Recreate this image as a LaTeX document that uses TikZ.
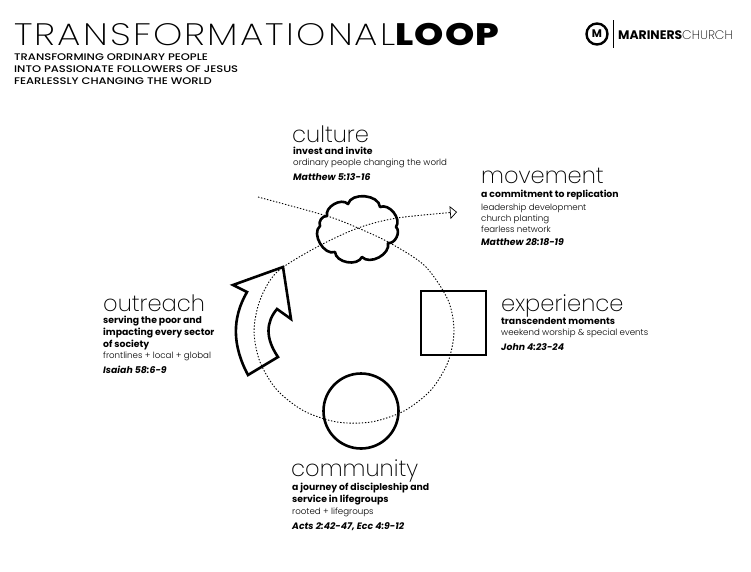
\documentclass[tikz,border=0pt]{standalone}
\usepackage{fontspec}
\setmainfont{Poppins}[UprightFont=* Light,BoldFont=* Bold,ItalicFont=* Italic,BoldItalicFont=* Bold Italic]
\newfontfamily\thinfont{Poppins}[UprightFont=* ExtraLight,BoldFont=* ExtraBold]
\newfontfamily\titlefont{Poppins}[UprightFont=* ExtraLight,FakeStretch=1.2,LetterSpace=7]
\newfontfamily\loopfont{Poppins}[UprightFont=* ExtraBold,FakeStretch=1.2,LetterSpace=3]
\newfontfamily\tagfont{Poppins}[UprightFont=* Medium,FakeStretch=1.2]
\usetikzlibrary{arrows.meta}
\tikzset{
    thickline/.style={line width=2.6pt},
    dotline/.style={line width=.9pt,dash pattern=on 1.4pt off 1.7pt},
    heading/.style={anchor=base west,inner sep=0pt,font=\thinfont\fontsize{22.6}{23}\selectfont},
    lead/.style={anchor=base west,inner sep=0pt,align=left,font=\fontsize{9.3}{12}\selectfont\bfseries},
    tagline/.style={anchor=base west,inner sep=0pt,font=\tagfont\fontsize{9.6}{12}\selectfont},
    body/.style={anchor=base west,inner sep=0pt,align=left,font=\fontsize{8.65}{10.6}\selectfont},
    verse/.style={anchor=base west,inner sep=0pt,font=\fontsize{9.3}{12}\selectfont\bfseries\itshape}
}
\begin{document}
\begin{tikzpicture}[x=1pt,y=-1pt]
    \useasboundingbox (0,0) rectangle (751,571);
    % header
    \node[anchor=base west,inner sep=0pt] (title) at (14,45) {\fontsize{31}{31}\selectfont{\titlefont TRANSFORMATIONAL}{\loopfont LOOP}};
    \node[tagline] (tagone) at (14,60) {TRANSFORMING ORDINARY PEOPLE};
    \node[tagline] (tagtwo) at (14,72) {INTO PASSIONATE FOLLOWERS OF JESUS};
    \node[tagline] (tagthree) at (14,84) {FEARLESSLY CHANGING THE WORLD};
    % logo
    \node[circle,draw,line width=2.4pt,minimum size=21pt,inner sep=0pt,font=\bfseries\fontsize{11}{11}\selectfont] (logo) at (597,34) {M};
    \draw[line width=.7pt] (613,20)--(613,48);
    \node[anchor=base west,inner sep=0pt,font=\fontsize{12.4}{12}\selectfont] (church) at (618,39) {\textbf{MARINERS}\thinfont CHURCH};
    % the loop
    \coordinate (start) at (258,197);
    \draw[dotline,-{Triangle[open,length=7pt,width=13pt,line width=.7pt]}] plot[smooth] coordinates {(start) (327,216) (358,228) (390,243) (425,266) (448,300) (454,331) (448,362) (431,390) (404,411) (371,422) (337,422) (304,411) (277,390) (260,362) (254,331) (260,300) (277,272) (317,247) (358,228) (397,218) (457,212)};
    % shapes
    \draw[thickline,line join=round] (327,216) to[bend left=75] (348,204) to[bend left=80] (380,207) to[bend left=75] (396,227) to[bend left=75] (388,243) to[bend left=75] (362,257) to[bend left=75] (335,252) to[bend left=80] (320,226) to[bend left=60] cycle;
    \node[draw,thickline,minimum width=65pt,minimum height=64pt,inner sep=0pt] (squareshape) at (453.5,323) {};
    \node[circle,draw,thickline,minimum size=75pt,inner sep=0pt] (circleshape) at (361,411) {};
    \draw[thickline,line join=miter] (233,285)--(283,267)--(291,319)--(277,309) .. controls (266,322) and (265,338) .. (278,357)--(248,375) .. controls (232,345) and (232,318) .. (247,292)--cycle;
    % culture
    \node[heading] (culture) at (292,142) {culture};
    \node[lead] (culturelead) at (293,154) {invest and invite};
    \node[body] (culturebody) at (293,165) {ordinary people changing the world};
    \node[verse] (cultureverse) at (293,180) {Matthew 5:13-16};
    % movement
    \node[heading] (movement) at (481,183) {movement};
    \node[lead] (movementlead) at (481,197) {a commitment to replication};
    \node[body] (movementbody) at (481,232) {leadership development\\church planting\\fearless network};
    \node[verse] (movementverse) at (481,245) {Matthew 28:18-19};
    % experience
    \node[heading] (experience) at (501,311) {experience};
    \node[lead] (experiencelead) at (501,324) {transcendent moments};
    \node[body] (experiencebody) at (501,335) {weekend worship \& special events};
    \node[verse] (experienceverse) at (501,350) {John 4:23-24};
    % outreach
    \node[heading] (outreach) at (103,311) {outreach};
    \node[lead] (outreachlead) at (103,347) {serving the poor and\\impacting every sector\\of society};
    \node[body] (outreachbody) at (103,358) {frontlines + local + global};
    \node[verse] (outreachverse) at (103,373) {Isaiah 58:6-9};
    % community
    \node[heading] (community) at (291,476) {community};
    \node[lead] (communitylead) at (292,502) {a journey of discipleship and\\service in lifegroups};
    \node[body] (communitybody) at (292,514) {rooted + lifegroups};
    \node[verse] (communityverse) at (292,529) {Acts 2:42-47, Ecc 4:9-12};
\end{tikzpicture}
\end{document}
